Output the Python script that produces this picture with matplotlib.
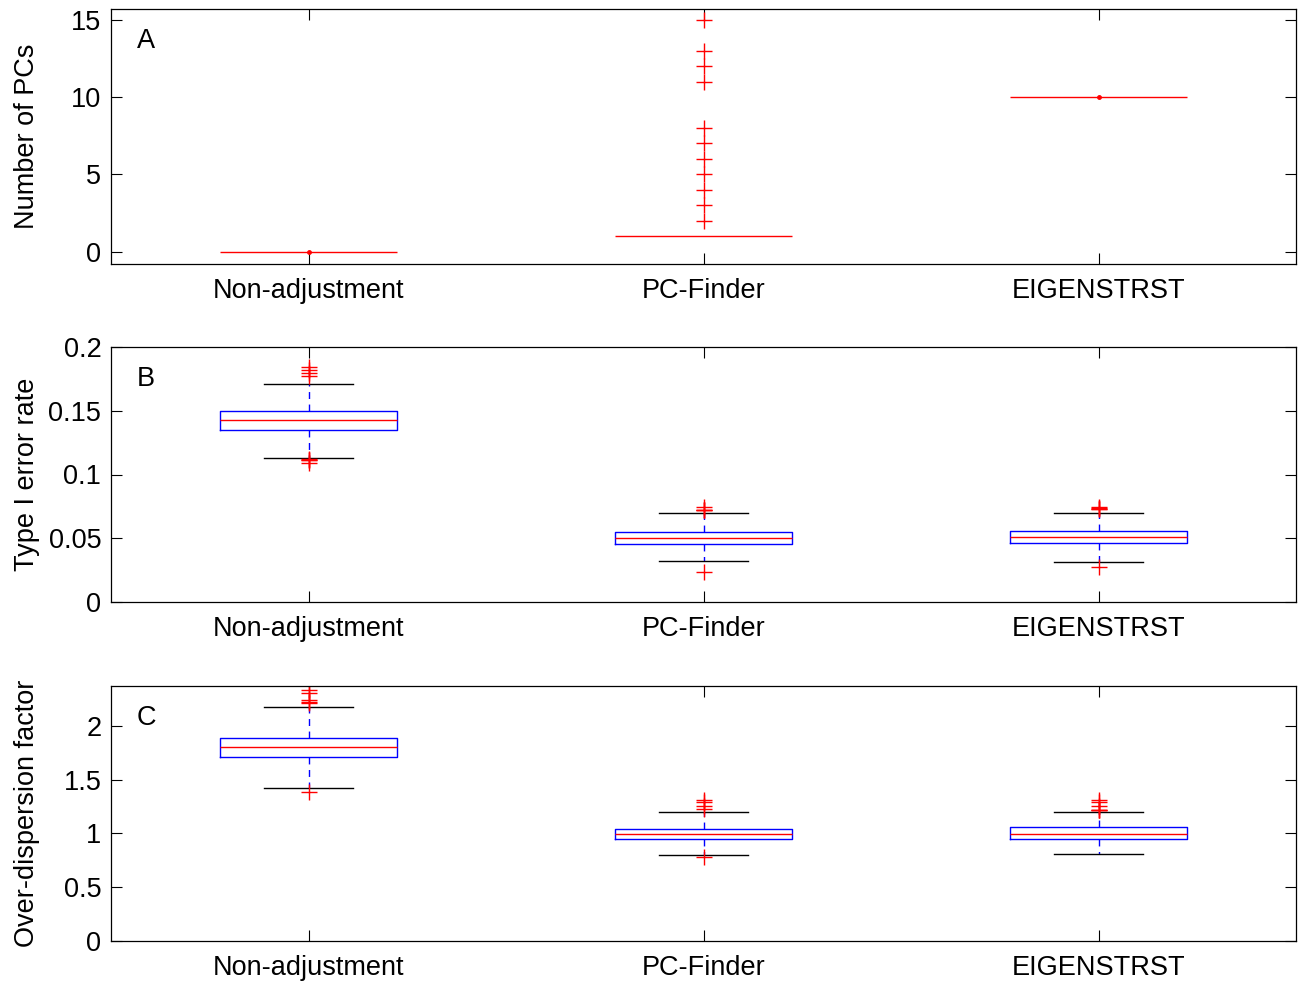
import numpy as np
import matplotlib
matplotlib.use("Agg")
import matplotlib.pyplot as plt
from matplotlib.ticker import FormatStrFormatter

plt.rcParams['font.family'] = ['Liberation Sans', 'DejaVu Sans']
plt.rcParams['font.size'] = 19.5

methods = ['Non-adjustment', 'PC-Finder', 'EIGENSTRST']
panel_letters = ['A', 'B', 'C']
ylabels = ['Number of PCs', 'Type I error rate', 'Over-dispersion factor']

# panel A: number of PCs (all collapsed boxes)
pcs_med = [0, 1, 10]
pcs_q1 = [0, 1, 10]
pcs_q3 = [0, 1, 10]
pcs_wlo = [0, 1, 10]
pcs_whi = [0, 1, 10]
pcs_fliers = [[], [2, 3, 4, 5, 6, 7, 8, 11, 12, 13, 15], []]

# panel B: type I error rate
t1_med = [0.1427, 0.0500, 0.0512]
t1_q1 = [0.1349, 0.0455, 0.0460]
t1_q3 = [0.1498, 0.0547, 0.0559]
t1_wlo = [0.1130, 0.0322, 0.0314]
t1_whi = [0.1710, 0.0700, 0.0700]
t1_fliers = [[0.184, 0.182, 0.180, 0.177, 0.1118, 0.1115, 0.1110, 0.109],
             [0.0745, 0.0722, 0.0720, 0.0718, 0.0238],
             [0.0745, 0.0737, 0.0733, 0.0730, 0.0272]]

# panel C: over-dispersion factor
od_med = [1.805, 0.998, 0.998]
od_q1 = [1.708, 0.952, 0.949]
od_q3 = [1.886, 1.042, 1.058]
od_wlo = [1.426, 0.797, 0.809]
od_whi = [2.174, 1.200, 1.200]
od_fliers = [[2.33, 2.304, 2.242, 2.223, 2.215, 1.383],
             [1.31, 1.293, 1.256, 1.228, 0.785],
             [1.31, 1.296, 1.256, 1.222, 1.217, 1.214]]

panels = [
    (pcs_med, pcs_q1, pcs_q3, pcs_wlo, pcs_whi, pcs_fliers, (-0.8, 15.7), [0, 5, 10, 15], '%g'),
    (t1_med, t1_q1, t1_q3, t1_wlo, t1_whi, t1_fliers, (0, 0.2), [0, 0.05, 0.1, 0.15, 0.2], '%g'),
    (od_med, od_q1, od_q3, od_wlo, od_whi, od_fliers, (0, 2.37), [0, 0.5, 1, 1.5, 2], '%g'),
]

fig = plt.figure(figsize=(13.02, 9.82), dpi=100)
W, H = 1302, 982
tops = [9, 347, 686]
ax_h = 255

for i, (med, q1, q3, wlo, whi, fl, ylim, yt, fmt) in enumerate(panels):
    ax = fig.add_axes([111 / W, (H - tops[i] - ax_h) / H, 1185 / W, ax_h / H])
    stats = []
    for k in range(3):
        stats.append(dict(med=med[k], q1=q1[k], q3=q3[k], whislo=wlo[k], whishi=whi[k],
                          fliers=fl[k], label=methods[k]))
    bp = ax.bxp(stats, positions=[1, 2, 3], widths=0.446, showfliers=True,
                boxprops=dict(color='blue', linewidth=1.0),
                medianprops=dict(color='red', linewidth=1.0, zorder=4),
                whiskerprops=dict(color='blue', linewidth=1.0, linestyle=(0, (5, 4))),
                capprops=dict(color='black', linewidth=1.0),
                capwidths=0.224,
                flierprops=dict(marker='+', markeredgecolor='red', markersize=12,
                                markeredgewidth=1.0, linestyle='none'))
    for k in range(3):
        if q1[k] == q3[k]:
            # collapsed box: only the red median line shows
            bp['boxes'][k].set_visible(False)
            for a in bp['whiskers'][2 * k:2 * k + 2] + bp['caps'][2 * k:2 * k + 2]:
                a.set_visible(False)
            if len(fl[k]) == 0:
                ax.plot([k + 1], [med[k]], '.', color='red', markersize=5, zorder=5)
    ax.set_xlim(0.5, 3.5)
    ax.set_ylim(*ylim)
    ax.set_yticks(yt)
    ax.yaxis.set_major_formatter(FormatStrFormatter(fmt))
    ax.set_xticks([1, 2, 3])
    ax.set_xticklabels(methods)
    ax.tick_params(direction='in', length=8, top=True, right=True, width=0.8)
    ax.tick_params(axis='x', pad=10)
    ax.tick_params(axis='y', pad=7)
    for s in ax.spines.values():
        s.set_linewidth(0.9)
    ax.text(0.022, 0.875, panel_letters[i], transform=ax.transAxes, fontsize=19.5,
            ha='left', va='center')
    ax.set_ylabel(ylabels[i])
    ax.yaxis.set_label_coords(-0.060, 0.5)

fig.savefig('out.png', dpi=100)
